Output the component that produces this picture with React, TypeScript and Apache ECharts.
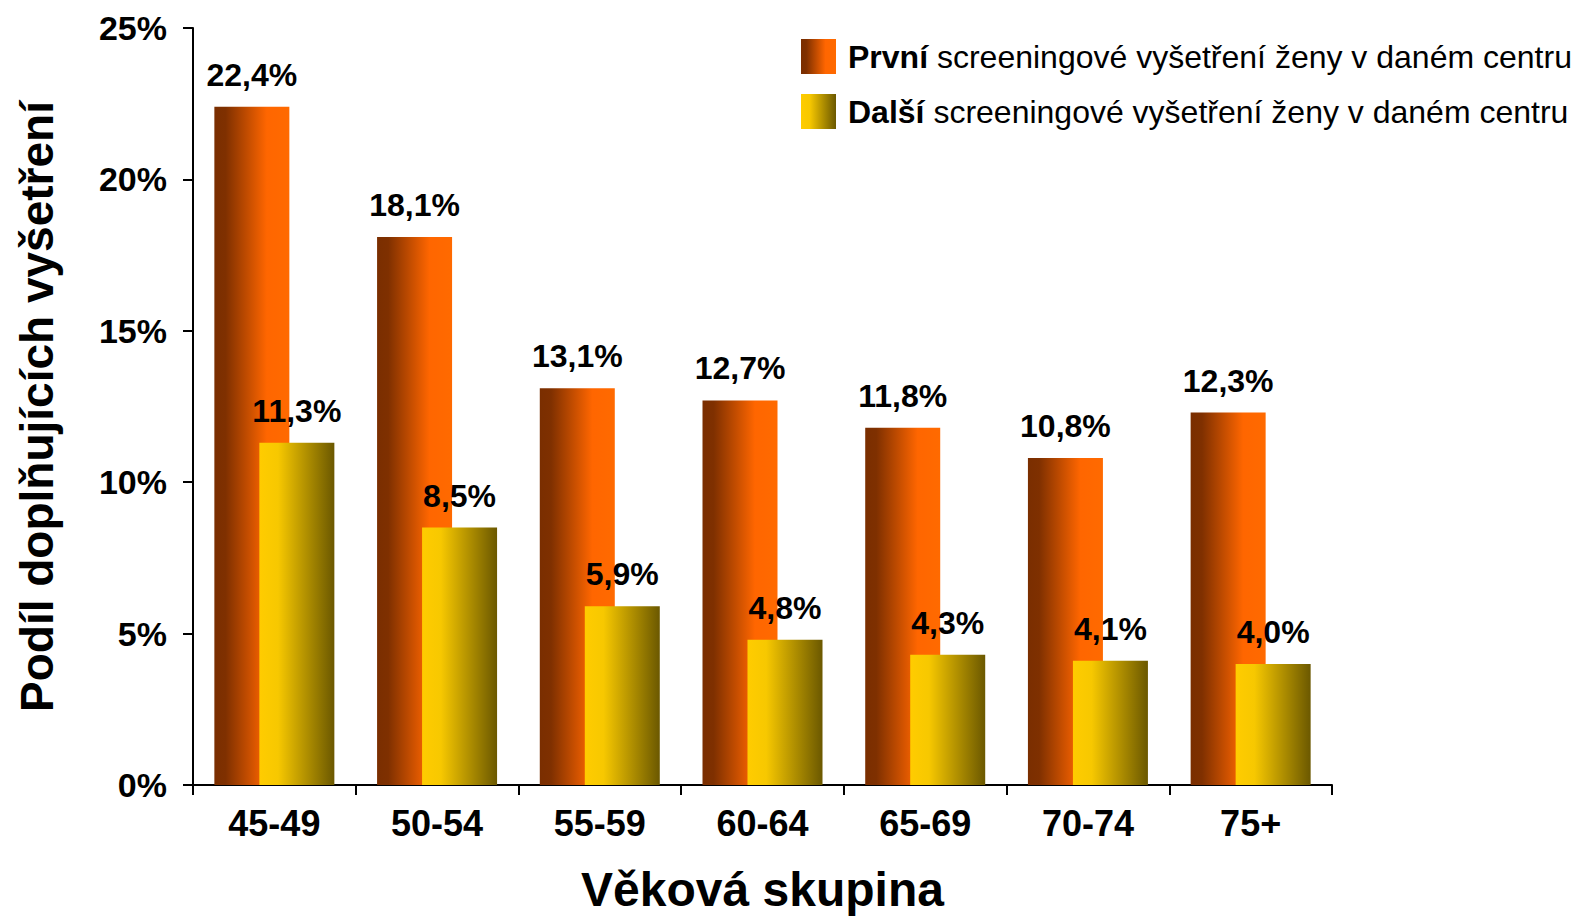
import React, { useEffect, useRef } from "react";
import * as echarts from "echarts";

const categories = ["45-49", "50-54", "55-59", "60-64", "65-69", "70-74", "75+"];
const prvni = [22.4, 18.1, 13.1, 12.7, 11.8, 10.8, 12.3];
const dalsi = [11.3, 8.5, 5.9, 4.8, 4.3, 4.1, 4.0];
const yTicks = [0, 5, 10, 15, 20, 25];

const FONT = "'Liberation Sans', Arial, sans-serif";

export default function App() {
  const ref = useRef<HTMLDivElement>(null);
  useEffect(() => {
    if (!ref.current) return;
    const chart = echarts.init(ref.current, null, { renderer: "svg" });
    const orange = new echarts.graphic.LinearGradient(0, 0, 1, 0, [
      { offset: 0, color: "#7a2e00" },
      { offset: 0.15, color: "#7f3000" },
      { offset: 0.7, color: "#ff6600" },
      { offset: 1, color: "#ff6a00" },
    ]);
    const yellow = new echarts.graphic.LinearGradient(0, 0, 1, 0, [
      { offset: 0, color: "#ffcc00" },
      { offset: 0.25, color: "#f7c800" },
      { offset: 1, color: "#6b5800" },
    ]);
    const fmt = (p: any) => p.value.toFixed(1).replace(".", ",") + "%";
    const labelStyle = {
      show: true,
      position: "top" as const,
      distance: 16,
      formatter: fmt,
      fontFamily: FONT,
      fontWeight: "bold" as const,
      fontSize: 32,
      color: "#000",
    };
    chart.setOption({
      animation: false,
      textStyle: { fontFamily: FONT },
      grid: { left: 193, right: 245, top: 28, bottom: 131, containLabel: false },
      legend: {
        left: 796,
        top: 34,
        orient: "vertical",
        itemWidth: 35,
        itemHeight: 35,
        itemGap: 20,
        icon: "rect",
        align: "left",
        textStyle: {
          fontFamily: FONT,
          fontSize: 32,
          color: "#000",
          rich: {
            b: { fontFamily: FONT, fontSize: 32, fontWeight: "bold", color: "#000", padding: [0, 0, 0, 7] },
            n: { fontFamily: FONT, fontSize: 32, color: "#000" },
          },
        },
        formatter: (name: string) => {
          const [first, ...rest] = name.split(" ");
          return `{b|${first}} {n|${rest.join(" ")}}`;
        },
      },
      xAxis: {
        type: "category",
        data: categories,
        name: "Věková skupina",
        nameLocation: "middle",
        nameGap: 80,
        nameTextStyle: { fontFamily: FONT, fontSize: 48, fontWeight: "bold", color: "#000" },
        axisLine: { lineStyle: { color: "#000", width: 2 } },
        axisTick: { show: true, length: 10, lineStyle: { color: "#000", width: 2 } },
        axisLabel: { fontFamily: FONT, fontSize: 36, fontWeight: "bold", color: "#000", margin: 20 },
      },
      yAxis: {
        type: "value",
        min: yTicks[0],
        max: yTicks[yTicks.length - 1],
        interval: 5,
        name: "Podíl doplňujících vyšetření",
        nameLocation: "middle",
        nameGap: 133,
        nameTextStyle: { fontFamily: FONT, fontSize: 46, fontWeight: "bold", color: "#000" },
        axisLine: { show: true, lineStyle: { color: "#000", width: 2 } },
        axisTick: { show: true, inside: false, length: 10, lineStyle: { color: "#000", width: 2 } },
        axisLabel: {
          formatter: (v: number) => v + "%",
          fontFamily: FONT,
          fontSize: 34,
          fontWeight: "bold",
          color: "#000",
          margin: 26,
        },
        splitLine: { show: false },
      },
      series: [
        {
          name: "První screeningové vyšetření ženy v daném centru",
          type: "bar",
          data: prvni,
          barWidth: 75,
          barGap: "-40%",
          itemStyle: { color: orange },
          label: labelStyle,
          z: 2,
        },
        {
          name: "Další screeningové vyšetření ženy v daném centru",
          type: "bar",
          data: dalsi,
          barWidth: 75,
          barGap: "-40%",
          itemStyle: { color: yellow },
          label: labelStyle,
          z: 3,
        },
      ],
    });
    return () => chart.dispose();
  }, []);
  return (
    <div
      ref={ref}
      style={{ position: "absolute", left: 0, top: 0, width: 1577, height: 918 }}
    />
  );
}
